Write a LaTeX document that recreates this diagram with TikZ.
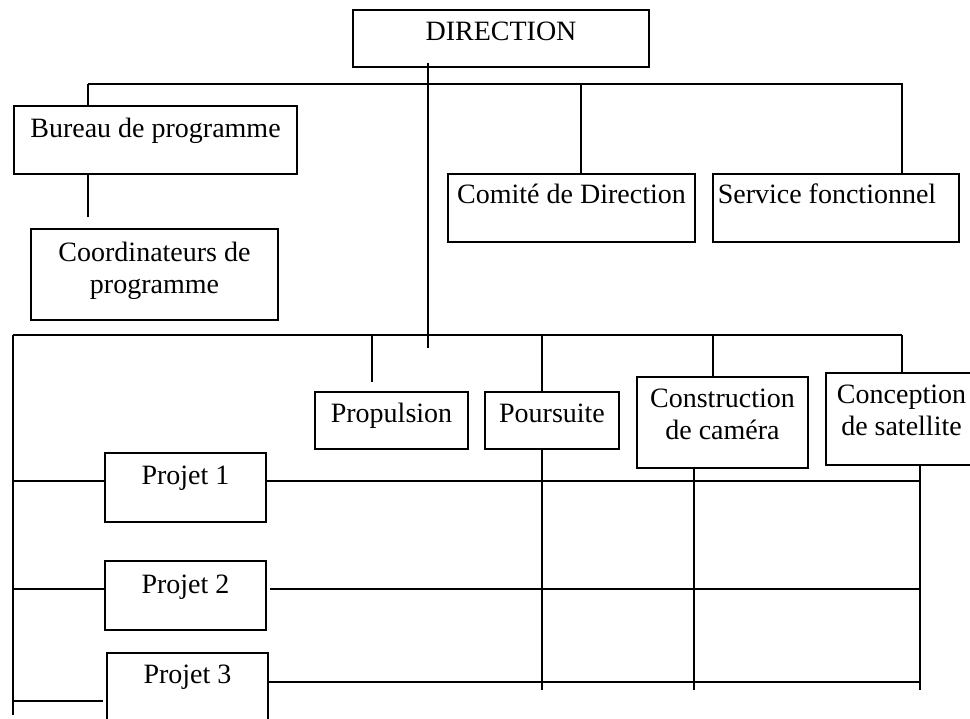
\documentclass[tikz,border=0pt]{standalone}
\usepackage{fontspec}
\setmainfont{Liberation Serif}
\newcommand\orgfont{\fontsize{28}{32}\selectfont}
\newcommand\twolines[2]{\begin{tabular}[t]{@{}c@{}}#1\\#2\end{tabular}}
\tikzset{
  orgbox/.style={draw, line width=2pt, inner sep=0pt, anchor=north west, font=\orgfont},
  link/.style={line width=2pt}
}
\begin{document}
\begin{tikzpicture}[x=1pt,y=-1pt]
\useasboundingbox (0,0) rectangle (970,719);
\clip (0,0) rectangle (970,719);
% boxes
\node[orgbox, minimum width=296pt, text height=31pt, text depth=26pt] (dir) at (352,9) {DIRECTION};
\node[orgbox, minimum width=283pt, text height=32pt, text depth=36pt] (bur) at (13,105) {Bureau de programme};
\node[orgbox, minimum width=247pt, text height=33pt, text depth=58pt] (coord) at (30,228) {\twolines{Coordinateurs de}{programme}};
\node[orgbox, minimum width=247pt, text height=30pt, text depth=38pt] (com) at (447,173) {Comité de Direction};
\node[orgbox, minimum width=246pt, text height=30pt, text depth=38pt] (serv) at (712,173) {\hspace*{-18pt}Service fonctionnel};
\node[orgbox, minimum width=153pt, text height=31pt, text depth=26pt] (prop) at (314,391) {Propulsion};
\node[orgbox, minimum width=134pt, text height=31pt, text depth=26pt] (pours) at (484,391) {Poursuite};
\node[orgbox, minimum width=171pt, text height=31pt, text depth=60pt] (constr) at (636,376) {\twolines{Construction}{de caméra}};
\node[orgbox, minimum width=151pt, text height=31pt, text depth=61pt] (concep) at (825,372) {\twolines{Conception}{de satellite}};
\node[orgbox, minimum width=161pt, text height=31pt, text depth=38pt] (p1) at (104,452) {Projet 1};
\node[orgbox, minimum width=161pt, text height=32pt, text depth=37pt] (p2) at (104,560) {Projet 2};
\node[orgbox, minimum width=161pt, text height=30pt, text depth=40pt] (p3) at (106,652) {Projet 3};
% junction coordinates
\coordinate (dirfoot) at (428,63);
\coordinate (dirend) at (428,348);
\coordinate (topL) at (88,84);
\coordinate (topC) at (581,84);
\coordinate (topR) at (902,84);
\coordinate (burend) at (88,217);
\coordinate (busL) at (13,335);
\coordinate (busP) at (372,335);
\coordinate (propend) at (372,382);
\coordinate (busQ) at (542,335);
\coordinate (busC) at (713,335);
\coordinate (busR) at (902,335);
\coordinate (leftend) at (13,715);
\coordinate (qend) at (542,690);
\coordinate (cend) at (694,690);
\coordinate (send) at (920,690);
\coordinate (r1) at (920,481);
\coordinate (l1) at (13,481);
\coordinate (r2) at (920,589);
\coordinate (l2) at (13,589);
\coordinate (p2r) at (270,589);
\coordinate (r3) at (920,682);
\coordinate (l3) at (13,701);
\coordinate (p3l) at (103,701);
% connectors
\draw[link] (dirfoot) -- (dirend);
\draw[link] (topL) -- ([xshift=1pt]topR);
\draw[link] (topL) -- (topL |- bur.north);
\draw[link] (topC) -- (topC |- com.north);
\draw[link] (topR) -- (topR |- serv.north);
\draw[link] (topL |- bur.south) -- (burend);
\draw[link] (busL) -- (busR);
\draw[link] (busL) -- (leftend);
\draw[link] (busP) -- (propend);
\draw[link] (busQ) -- (busQ |- pours.north);
\draw[link] (busQ |- pours.south) -- (qend);
\draw[link] (busC) -- (busC |- constr.north);
\draw[link] (cend |- constr.south) -- (cend);
\draw[link] (busR) -- (busR |- concep.north);
\draw[link] (send |- concep.south) -- (send);
\draw[link] (l1) -- (l1 -| p1.west);
\draw[link] (r1 -| p1.east) -- (r1);
\draw[link] (l2) -- (l2 -| p2.west);
\draw[link] (p2r) -- (r2);
\draw[link] (l3) -- (p3l);
\draw[link] (r3 -| p3.east) -- (r3);
\end{tikzpicture}
\end{document}
